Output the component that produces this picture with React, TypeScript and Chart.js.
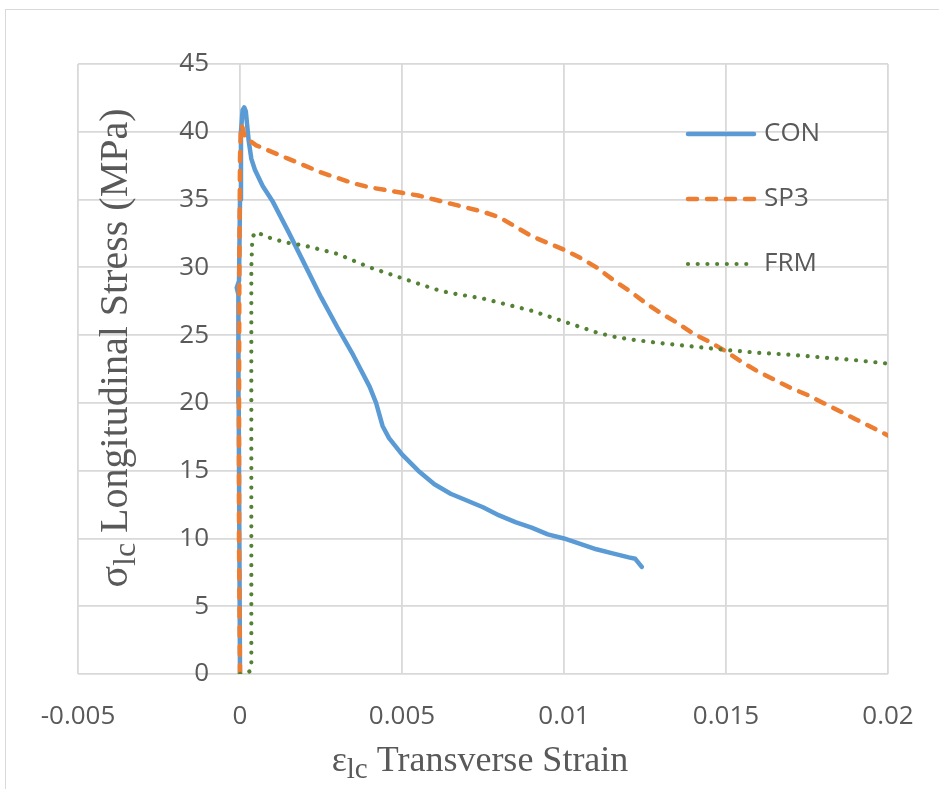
import React, { useEffect, useRef } from 'react';
import { Chart, registerables } from 'chart.js';

Chart.register(...registerables);

// ---------- data ----------
const conStrain = [0, -0.00002, -0.00004, -0.00005, -0.0001, -0.00003, 0.0, 0.00003, 0.00008, 0.00013, 0.00018, 0.00022, 0.00027, 0.00035, 0.00046, 0.0007, 0.001, 0.0015, 0.002, 0.0025, 0.003, 0.0035, 0.004, 0.0042, 0.0044, 0.0046, 0.005, 0.0055, 0.006, 0.0065, 0.007, 0.0075, 0.008, 0.0085, 0.009, 0.0095, 0.01, 0.0105, 0.011, 0.0115, 0.012, 0.0122, 0.0123, 0.0124];
const conStress = [0, 10, 20, 28.0, 28.5, 29.0, 35, 40, 41.6, 41.8, 41.5, 40.5, 39.3, 38.0, 37.2, 36.0, 34.9, 32.6, 30.2, 27.8, 25.6, 23.5, 21.2, 20.0, 18.3, 17.4, 16.2, 15.0, 14.0, 13.3, 12.8, 12.3, 11.7, 11.2, 10.8, 10.3, 10.0, 9.6, 9.2, 8.9, 8.6, 8.5, 8.2, 7.9];

const sp3Strain = [0, -0.00003, -0.00003, -0.00002, 0, 0.00003, 0.00008, 0.00015, 0.0005, 0.001, 0.0015, 0.002, 0.0025, 0.003, 0.0035, 0.004, 0.0045, 0.005, 0.0055, 0.006, 0.0065, 0.007, 0.0075, 0.008, 0.0085, 0.009, 0.0095, 0.01, 0.0105, 0.011, 0.0115, 0.012, 0.0125, 0.013, 0.0135, 0.014, 0.0145, 0.015, 0.0155, 0.016, 0.0165, 0.017, 0.0175, 0.018, 0.0185, 0.019, 0.0195, 0.02];
const sp3Stress = [0, 10, 20, 30, 38, 40.5, 40.3, 39.6, 39.0, 38.5, 38.0, 37.5, 37.0, 36.6, 36.2, 35.9, 35.7, 35.5, 35.3, 35.0, 34.7, 34.4, 34.1, 33.7, 33.0, 32.3, 31.8, 31.3, 30.7, 30.0, 29.1, 28.3, 27.4, 26.6, 25.9, 25.1, 24.5, 23.8, 23.0, 22.3, 21.7, 21.1, 20.6, 20.0, 19.4, 18.8, 18.2, 17.6];

const frmStrain = [0, 0.0002, 0.0003, 0.00035, 0.00035, 0.00035, 0.00035, 0.00038, 0.00048, 0.0007, 0.001, 0.0015, 0.002, 0.0025, 0.003, 0.0035, 0.004, 0.0045, 0.005, 0.0055, 0.006, 0.0065, 0.007, 0.0075, 0.008, 0.0085, 0.009, 0.0095, 0.01, 0.0105, 0.011, 0.0115, 0.012, 0.0125, 0.013, 0.014, 0.015, 0.016, 0.017, 0.018, 0.019, 0.02];
const frmStress = [0, 0.1, 0.2, 0.5, 10, 20, 30, 32.2, 32.6, 32.4, 32.1, 31.8, 31.6, 31.3, 31.0, 30.5, 30.0, 29.6, 29.2, 28.8, 28.4, 28.1, 27.9, 27.7, 27.4, 27.1, 26.8, 26.4, 26.0, 25.6, 25.2, 24.9, 24.7, 24.55, 24.4, 24.15, 23.9, 23.7, 23.55, 23.35, 23.15, 22.9];

const seriesNames = ['CON', 'SP3', 'FRM'];
const xTickValues = [-0.005, 0, 0.005, 0.01, 0.015, 0.02];
const xTickLabels = ['-0.005', '0', '0.005', '0.01', '0.015', '0.02'];
const yTickValues = [0, 5, 10, 15, 20, 25, 30, 35, 40, 45];
const yTickLabels = ['0', '5', '10', '15', '20', '25', '30', '35', '40', '45'];
const xTitle = { main: 'ε', sub: 'lc', rest: ' Transverse Strain' };
const yTitle = { main: 'σ', sub: 'lc', rest: ' Longitudinal Stress (MPa)' };

// ---------- styles ----------
const W = 939;
const H = 789;
const AREA = { left: 78, right: 888, top: 64, bottom: 674 };
const GRID = '#D9D9D9';
const TEXT = '#595959';
const SANS = '"Open Sans", "Liberation Sans", sans-serif';
const SERIF = '"Liberation Serif", "Times New Roman", serif';
const COLORS = ['#5B9BD5', '#ED7D31', '#548235'];
const DASHES: number[][] = [[], [9, 10], [0.01, 9.7]];
const WIDTHS = [4.5, 4.5, 4.2];

const toPts = (xs: number[], ys: number[]) => xs.map((x, i) => ({ x, y: ys[i] }));

function drawSubText(ctx: CanvasRenderingContext2D, t: { main: string; sub: string; rest: string }, cx: number, baseY: number, size: number) {
  const mainFont = `${size}px ${SERIF}`;
  const subFont = `${Math.round(size * 0.8)}px ${SERIF}`;
  ctx.font = mainFont;
  const w1 = ctx.measureText(t.main).width;
  const w3 = ctx.measureText(t.rest).width;
  ctx.font = subFont;
  const w2 = ctx.measureText(t.sub).width;
  let x = cx - (w1 + w2 + w3) / 2;
  ctx.textAlign = 'left';
  ctx.textBaseline = 'alphabetic';
  ctx.font = mainFont;
  ctx.fillText(t.main, x, baseY);
  x += w1;
  ctx.font = subFont;
  ctx.fillText(t.sub, x, baseY + size * 0.2);
  x += w2;
  ctx.font = mainFont;
  ctx.fillText(t.rest, x, baseY);
}

const decorPlugin = {
  id: 'decor',
  beforeDraw(chart: any) {
    const ctx = chart.ctx as CanvasRenderingContext2D;
    ctx.save();
    ctx.fillStyle = '#FFFFFF';
    ctx.fillRect(0, 0, W, H);
    ctx.strokeStyle = '#D9D9D9';
    ctx.lineWidth = 1;
    ctx.strokeRect(5.5, 9.5, W + 20, H + 20);
    ctx.restore();
  },
  afterDraw(chart: any) {
    const ctx = chart.ctx as CanvasRenderingContext2D;
    const xs = chart.scales.x;
    const ys = chart.scales.y;
    ctx.save();
    ctx.fillStyle = TEXT;
    ctx.font = `26px ${SANS}`;
    // y tick labels next to the vertical axis at x = 0
    const axisX = xs.getPixelForValue(0);
    ctx.textAlign = 'right';
    ctx.textBaseline = 'middle';
    yTickValues.forEach((v, i) => {
      ctx.fillText(yTickLabels[i], axisX - 31, ys.getPixelForValue(v));
    });
    // x tick labels
    ctx.textAlign = 'center';
    xTickValues.forEach((v, i) => {
      ctx.fillText(xTickLabels[i], xs.getPixelForValue(v), chart.chartArea.bottom + 43);
    });
    // titles
    const ca = chart.chartArea;
    drawSubText(ctx, xTitle, (ca.left + ca.right) / 2 - 3, 771, 36);
    ctx.save();
    ctx.translate(127, 348);
    ctx.rotate(-Math.PI / 2);
    drawSubText(ctx, yTitle, 0, 0, 40);
    ctx.restore();
    // legend
    const rowsY = [134, 199, 264];
    seriesNames.forEach((name, i) => {
      const y = rowsY[i];
      ctx.save();
      ctx.strokeStyle = COLORS[i];
      ctx.lineWidth = WIDTHS[i];
      ctx.lineCap = 'round';
      ctx.setLineDash(DASHES[i]);
      ctx.beginPath();
      ctx.moveTo(688, y);
      ctx.lineTo(i === 2 ? 748 : 754, y);
      ctx.stroke();
      ctx.restore();
      ctx.fillStyle = TEXT;
      ctx.font = `26px ${SANS}`;
      ctx.textAlign = 'left';
      ctx.textBaseline = 'middle';
      ctx.fillText(name, 764, y);
    });
    ctx.restore();
  },
};

export default function App() {
  const ref = useRef<HTMLCanvasElement | null>(null);
  useEffect(() => {
    document.body.style.margin = '0';
    document.body.style.overflow = 'hidden';
    const canvas = ref.current;
    if (!canvas) return;
    const series = [
      toPts(conStrain, conStress),
      toPts(sp3Strain, sp3Stress),
      toPts(frmStrain, frmStress),
    ];
    const chart = new Chart(canvas, {
      type: 'line',
      data: {
        datasets: series.map((d, i) => ({
          label: seriesNames[i],
          data: d,
          borderColor: COLORS[i],
          backgroundColor: COLORS[i],
          borderWidth: WIDTHS[i],
          borderDash: DASHES[i],
          borderCapStyle: 'round',
          borderJoinStyle: 'round',
          pointRadius: 0,
          tension: 0,
          fill: false,
          order: 3 - i,
        })),
      },
      options: {
        animation: false,
        responsive: false,
        devicePixelRatio: 1,
        layout: {
          padding: { left: AREA.left, right: W - AREA.right, top: AREA.top, bottom: H - AREA.bottom },
        },
        plugins: { legend: { display: false }, tooltip: { enabled: false } },
        scales: {
          x: {
            type: 'linear',
            min: -0.005,
            max: 0.02,
            afterBuildTicks: (s: any) => { s.ticks = xTickValues.map((v) => ({ value: v })); },
            ticks: { display: false },
            grid: { color: GRID, lineWidth: 1.8, drawTicks: false },
            border: { display: false },
          },
          y: {
            type: 'linear',
            min: 0,
            max: 45,
            afterBuildTicks: (s: any) => { s.ticks = yTickValues.map((v) => ({ value: v })); },
            ticks: { display: false },
            grid: { color: GRID, lineWidth: 1.8, drawTicks: false },
            border: { display: false },
          },
        },
      } as any,
      plugins: [decorPlugin],
    });
    return () => chart.destroy();
  }, []);
  return <canvas ref={ref} width={W} height={H} style={{ display: 'block', width: W, height: H }} />;
}
